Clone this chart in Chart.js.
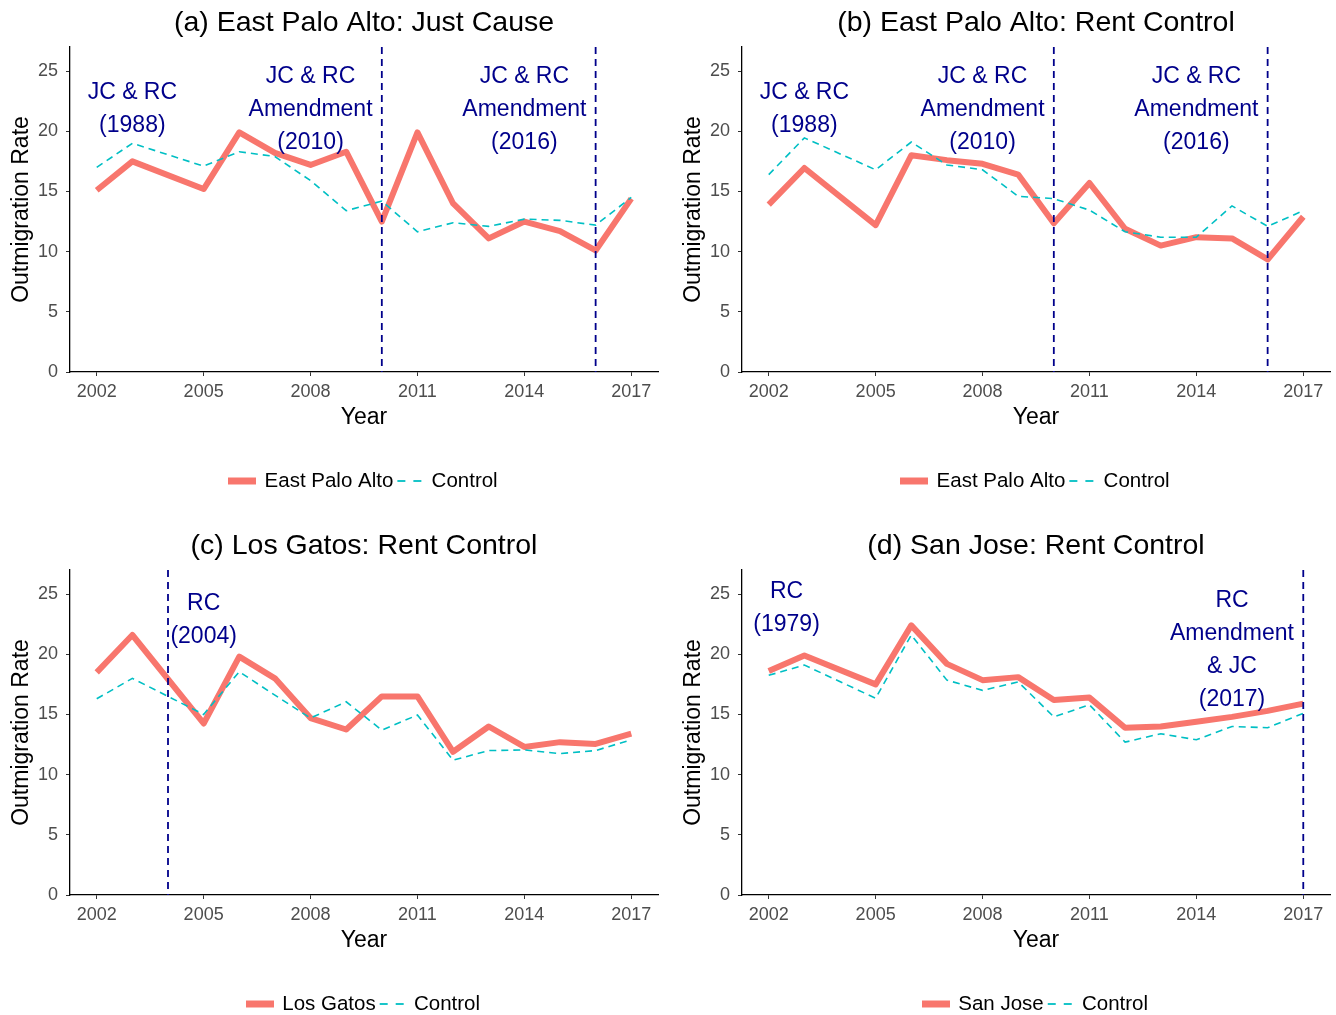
<!DOCTYPE html>
<html>
<head>
<meta charset="utf-8">
<script src="https://cdn.jsdelivr.net/npm/chart.js@4.4.1/dist/chart.umd.min.js"></script>
<style>
  body { margin: 0; background: #fff; overflow: hidden; }
  .panel { position: absolute; width: 664px; height: 523px; }
</style>
</head>
<body>
<div class="panel" style="left:0;top:0"><canvas id="chartA" width="664" height="523"></canvas></div>
<div class="panel" style="left:672px;top:0"><canvas id="chartB" width="664" height="523"></canvas></div>
<div class="panel" style="left:0;top:523px"><canvas id="chartC" width="664" height="523"></canvas></div>
<div class="panel" style="left:672px;top:523px"><canvas id="chartD" width="664" height="523"></canvas></div>
<script>
// years of the series (2004 missing in the source data)
var years = [2002, 2003, 2004, 2005, 2006, 2007, 2008, 2009, 2010, 2011, 2012, 2013, 2014, 2015, 2016, 2017];
var xTicks = [2002, 2005, 2008, 2011, 2014, 2017];
var yTicks = [0, 5, 10, 15, 20, 25];

var epaJcCity    = [15.1, 17.5, null, 15.2, 19.9, 18.2, 17.2, 18.3, 12.5, 19.9, 14.0, 11.1, 12.5, 11.7, 10.1, 14.4];
var epaJcControl = [17.0, 19.0, null, 17.1, 18.3, 17.9, 15.9, 13.4, 14.2, 11.65, 12.4, 12.1, 12.7, 12.6, 12.2, 14.5];

var epaRcCity    = [13.9, 16.95, null, 12.2, 18.0, 17.6, 17.3, 16.4, 12.35, 15.7, 11.9, 10.5, 11.2, 11.1, 9.35, 12.9];
var epaRcControl = [16.4, 19.45, null, 16.8, 19.1, 17.2, 16.8, 14.6, 14.4, 13.45, 11.65, 11.2, 11.2, 13.8, 12.1, 13.4];

var losGatosCity    = [18.5, 21.6, null, 14.25, 19.8, 18.0, 14.7, 13.75, 16.5, 16.5, 11.9, 14.0, 12.3, 12.7, 12.55, 13.4];
var losGatosControl = [16.3, 18.0, null, 15.0, 18.55, 16.6, 14.7, 16.05, 13.7, 14.95, 11.2, 12.0, 12.05, 11.75, 12.0, 12.9];

var sanJoseCity    = [18.6, 19.9, null, 17.5, 22.4, 19.2, 17.85, 18.1, 16.2, 16.4, 13.9, 14.0, 14.4, 14.8, 15.3, 15.9];
var sanJoseControl = [18.25, 19.1, null, 16.35, 21.6, 17.85, 17.0, 17.7, 14.8, 15.8, 12.7, 13.4, 12.9, 14.0, 13.9, 15.1];

var FONT = '"Liberation Sans", Arial, sans-serif';
var CITY_COLOR = '#F8766D';
var CONTROL_COLOR = '#00BFC4';
var NOTE_COLOR = '#00008B';

// small line swatch used as legend point style
function swatch(color, width, dash, offset) {
    var c = document.createElement('canvas');
    c.width = 28;
    c.height = 8;
    var g = c.getContext('2d');
    g.strokeStyle = color;
    g.lineWidth = width;
    g.setLineDash(dash);
    g.lineDashOffset = offset || 0;
    g.beginPath();
    g.moveTo(0, 4);
    g.lineTo(28, 4);
    g.stroke();
    return c;
}

// policy lines + notes
var markers = {
    id: 'markers',
    afterDatasetsDraw: function (chart, args, opts) {
        var ctx = chart.ctx, area = chart.chartArea;
        var x = chart.scales.x, y = chart.scales.y;
        ctx.save();
        ctx.strokeStyle = NOTE_COLOR;
        ctx.lineWidth = 1.8;
        ctx.setLineDash([7, 5]);
        (opts.lines || []).forEach(function (yr) {
            var px = x.getPixelForValue(yr);
            ctx.beginPath();
            ctx.moveTo(px, area.top);
            ctx.lineTo(px, area.bottom);
            ctx.stroke();
        });
        ctx.fillStyle = NOTE_COLOR;
        ctx.font = '23px ' + FONT;
        ctx.textAlign = 'center';
        ctx.textBaseline = 'middle';
        (opts.notes || []).forEach(function (n) {
            var cx = x.getPixelForValue(n.year), cy = y.getPixelForValue(n.value) + 2;
            n.text.forEach(function (t, i) {
                ctx.fillText(t, cx, cy + (i - (n.text.length - 1) / 2) * 33);
            });
        });
        ctx.restore();
    }
};

function series(vals) {
    return years.map(function (yr, i) { return { x: yr, y: vals[i] }; });
}

function makeChart(id, title, city, cityVals, controlVals, lines, notes) {
    new Chart(document.getElementById(id), {
        type: 'line',
        data: {
            datasets: [{
                label: city,
                data: series(cityVals),
                borderColor: CITY_COLOR,
                borderWidth: 6,
                borderJoinStyle: 'round',
                pointRadius: 0,
                pointStyle: swatch(CITY_COLOR, 7, []),
                spanGaps: true,
                order: 1
            },
            {
                label: 'Control',
                data: series(controlVals),
                borderColor: CONTROL_COLOR,
                borderWidth: 1.6,
                borderDash: [7, 5],
                pointRadius: 0,
                pointStyle: swatch(CONTROL_COLOR, 1.8, [8, 8], -2),
                spanGaps: true,
                order: 0
            }]
        },
        options: {
            responsive: false,
            animation: false,
            devicePixelRatio: 1,
            layout: { padding: { left: 0, right: 6, top: 0, bottom: 21.75 } },
            plugins: {
                title: {
                    display: true,
                    fullSize: false,
                    text: title,
                    color: '#000',
                    font: { family: FONT, size: 28.5, weight: 'normal' },
                    padding: { top: 5.9, bottom: 6.9 }
                },
                legend: {
                    position: 'bottom',
                    fullSize: false,
                    labels: {
                        usePointStyle: true,
                        pointStyleWidth: 24,
                        padding: 4,
                        color: '#000',
                        font: { family: FONT, size: 20.5 },
                        sort: function (a, b) { return a.datasetIndex - b.datasetIndex; }
                    }
                },
                tooltip: { enabled: false },
                markers: { lines: lines, notes: notes }
            },
            scales: {
                x: {
                    type: 'linear',
                    min: 2001.25,
                    max: 2017.75,
                    afterBuildTicks: function (scale) {
                        scale.ticks = xTicks.map(function (v) { return { value: v }; });
                    },
                    afterFit: function (scale) { scale.height = 94.75; },
                    grid: { drawOnChartArea: false, tickLength: 4, tickColor: '#333' },
                    border: { color: '#000', width: 1.3 },
                    ticks: {
                        padding: 5,
                        color: '#4D4D4D',
                        font: { family: FONT, size: 18 },
                        callback: function (v) { return String(v); }
                    },
                    title: {
                        display: true,
                        text: 'Year',
                        color: '#000',
                        font: { family: FONT, size: 23 },
                        padding: { top: 0, bottom: 35 }
                    }
                },
                y: {
                    min: 0,
                    max: 27,
                    afterBuildTicks: function (scale) {
                        scale.ticks = yTicks.map(function (v) { return { value: v }; });
                    },
                    afterFit: function (scale) { scale.width = 70; },
                    grid: { drawOnChartArea: false, tickLength: 4, tickColor: '#333' },
                    border: { color: '#000', width: 1.3 },
                    ticks: {
                        padding: 8,
                        color: '#4D4D4D',
                        font: { family: FONT, size: 18 }
                    },
                    title: {
                        display: true,
                        text: 'Outmigration Rate',
                        color: '#000',
                        font: { family: FONT, size: 23 },
                        padding: { top: 8, bottom: 0 }
                    }
                }
            }
        },
        plugins: [markers]
    });
}

window.onload = function () {
    makeChart('chartA', '(a) East Palo Alto: Just Cause', 'East Palo Alto', epaJcCity, epaJcControl,
        [2010, 2016],
        [{ year: 2003, value: 22, text: ['JC & RC', '(1988)'] },
         { year: 2008, value: 22, text: ['JC & RC', 'Amendment', '(2010)'] },
         { year: 2014, value: 22, text: ['JC & RC', 'Amendment', '(2016)'] }]);

    makeChart('chartB', '(b) East Palo Alto: Rent Control', 'East Palo Alto', epaRcCity, epaRcControl,
        [2010, 2016],
        [{ year: 2003, value: 22, text: ['JC & RC', '(1988)'] },
         { year: 2008, value: 22, text: ['JC & RC', 'Amendment', '(2010)'] },
         { year: 2014, value: 22, text: ['JC & RC', 'Amendment', '(2016)'] }]);

    makeChart('chartC', '(c) Los Gatos: Rent Control', 'Los Gatos', losGatosCity, losGatosControl,
        [2004],
        [{ year: 2005, value: 23, text: ['RC', '(2004)'] }]);

    makeChart('chartD', '(d) San Jose: Rent Control', 'San Jose', sanJoseCity, sanJoseControl,
        [2017],
        [{ year: 2002.5, value: 24, text: ['RC', '(1979)'] },
         { year: 2015, value: 20.5, text: ['RC', 'Amendment', '& JC', '(2017)'] }]);
};
</script>
</body>
</html>
